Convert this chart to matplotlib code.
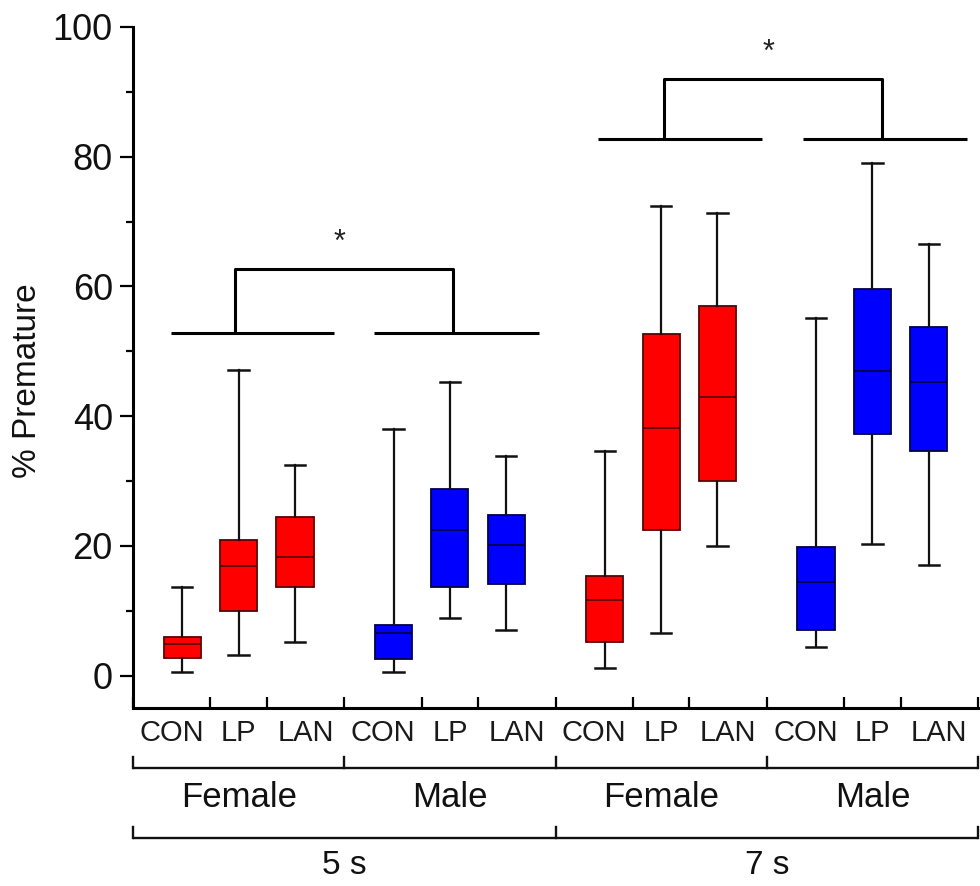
import matplotlib
matplotlib.use('Agg')
import matplotlib.pyplot as plt
import matplotlib.transforms as mtransforms
import numpy as np

plt.rcParams['font.family'] = ['Liberation Sans', 'DejaVu Sans']

### DATA
conditions = ['CON', 'LP', 'LAN']
sexes = ['Female', 'Male']
delays = ['5 s', '7 s']

# box statistics, order: 5 s female, 5 s male, 7 s female, 7 s male (CON, LP, LAN each)
whislo = [0.6, 3.1, 5.2, 0.6, 8.9, 7.0, 1.1, 6.5, 20.0, 4.4, 20.3, 17.0]
q1 = [2.7, 9.9, 13.6, 2.5, 13.6, 14.1, 5.2, 22.5, 30.0, 7.1, 37.2, 34.6]
med = [4.9, 16.9, 18.3, 6.6, 22.4, 20.1, 11.7, 38.1, 43.0, 14.4, 46.9, 45.3]
q3 = [5.9, 20.9, 24.4, 7.8, 28.7, 24.8, 15.3, 52.7, 57.0, 19.9, 59.6, 53.8]
whishi = [13.6, 47.1, 32.5, 38.0, 45.2, 33.8, 34.7, 72.4, 71.3, 55.2, 79.1, 66.6]

# significance brackets: (left line, right line, drop points, base, top)
sig_5s = dict(left=(-0.20, 2.69), right=(3.40, 6.33), drops=(0.94, 4.80), base=52.8, top=62.7)
sig_7s = dict(left=(7.38, 10.29), right=(11.02, 13.93), drops=(8.55, 12.42), base=82.7, top=92.0)

### LAYOUT
gap = 1.75
positions = []
for g in range(len(delays) * len(sexes)):
    for c in range(len(conditions)):
        positions.append(g * (len(conditions) - 1 + gap) + c)
positions = np.array(positions)
bounds = np.concatenate([[positions[0] - gap / 2],
                         (positions[1:] + positions[:-1]) / 2,
                         [positions[-1] + gap / 2]])

fig = plt.figure(figsize=(9.8, 8.86), dpi=100)
ax = fig.add_axes([133 / 980, 1 - 708 / 886, 845 / 980, 681 / 886])

stats = []
for i in range(len(positions)):
    stats.append(dict(whislo=whislo[i], q1=q1[i], med=med[i], q3=q3[i], whishi=whishi[i], fliers=[]))

bp = ax.bxp(stats, positions=positions, widths=0.66, capwidths=0.36, patch_artist=True,
            showfliers=False,
            whiskerprops=dict(color='#111111', lw=1.6),
            capprops=dict(color='#111111', lw=1.8),
            medianprops=dict(lw=1.3))

for i, box in enumerate(bp['boxes']):
    is_male = (i // 3) % 2 == 1
    face = '#0000ff' if is_male else '#ff0000'
    edge = '#00004a' if is_male else '#5a0000'
    box.set_facecolor(face)
    box.set_edgecolor(edge)
    box.set_linewidth(1.3)
    bp['medians'][i].set_color(edge)

### AXES STYLE
ax.set_xlim(bounds[0], bounds[-1])
ax.set_ylim(-5, 100)
for s in ['top', 'right']:
    ax.spines[s].set_visible(False)
for s in ['left', 'bottom']:
    ax.spines[s].set_linewidth(2.2)

ax.set_yticks(np.arange(0, 101, 20))
ax.set_yticks(np.arange(10, 100, 20), minor=True)
ax.tick_params(axis='y', which='major', direction='out', length=9.5, width=1.6, labelsize=26,
               pad=5, labelcolor='#111111')
ax.tick_params(axis='y', which='minor', direction='out', length=5, width=1.6)

ax.set_xticks(bounds)
ax.set_xticklabels([])
ax.tick_params(axis='x', which='major', direction='in', length=8, width=1.6)

fig.text(27 / 980, 1 - 381 / 886, '% Premature', rotation=90, ha='center', va='center',
         fontsize=24, color='#111111')

### CATEGORY LABELS UNDER THE AXIS
trans = mtransforms.blended_transform_factory(ax.transData, ax.transAxes)

for i in range(len(positions)):
    ax.text((bounds[i] + bounds[i + 1]) / 2, -0.037, conditions[i % 3], transform=trans,
            ha='center', va='center', fontsize=21, color='#1a1a1a')

def group_bracket(edges, y, tick):
    ax.plot([edges[0], edges[-1]], [y, y], color='#111111', lw=1.7, transform=trans, clip_on=False,
            solid_capstyle='butt')
    for e in edges:
        ax.plot([e, e], [y, y + tick], color='#111111', lw=1.7, transform=trans, clip_on=False)

sex_edges = bounds[::3]
group_bracket(sex_edges, -0.088, 0.016)
for g in range(len(sex_edges) - 1):
    ax.text((sex_edges[g] + sex_edges[g + 1]) / 2, -0.131, sexes[g % 2], transform=trans,
            ha='center', va='center', fontsize=25, color='#111111')

delay_edges = bounds[::6]
group_bracket(delay_edges, -0.191, 0.016)
for g in range(len(delay_edges) - 1):
    ax.text((delay_edges[g] + delay_edges[g + 1]) / 2, -0.232, delays[g], transform=trans,
            ha='center', va='center', fontsize=24, color='#111111')

### SIGNIFICANCE BRACKETS
def sig_bracket(s):
    kw = dict(color='black', lw=2.2, clip_on=False, solid_capstyle='butt')
    ax.plot(s['left'], [s['base'], s['base']], **kw)
    ax.plot(s['right'], [s['base'], s['base']], **kw)
    ax.plot([s['drops'][0], s['drops'][0], s['drops'][1], s['drops'][1]],
            [s['base'], s['top'], s['top'], s['base']], **kw)
    ax.text(sum(s['drops']) / 2 - 0.08, s['top'] + 4.0, '*', ha='center', va='center',
            fontsize=22, color='#222222')

sig_bracket(sig_5s)
sig_bracket(sig_7s)

fig.savefig('out.png', dpi=100)
